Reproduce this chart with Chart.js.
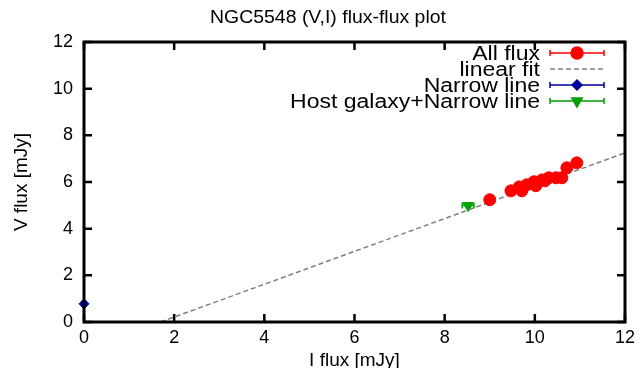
<!DOCTYPE html>
<html lang="en">

<head>
    <meta charset="UTF-8">
    <title>NGC5548 flux-flux plot</title>
    <script src="https://cdn.jsdelivr.net/npm/chart.js"></script>
    <style>
        body {
            margin: 0;
            background: #fff;
        }

        #wrap {
            position: relative;
            width: 640px;
            height: 368px;
        }
    </style>
</head>

<body>
    <div id="wrap">
        <canvas id="fluxChart"></canvas>
    </div>

    <script>
        const FONT = "'Liberation Sans', Arial, Helvetica, sans-serif";

        // Measured fluxes (I band on x, V band on y)
        const allFluxI = [9.00, 9.47, 9.65, 9.71, 9.82, 9.98, 10.02, 10.16, 10.22, 10.31, 10.47, 10.60, 10.71, 10.93];
        const allFluxV = [5.24, 5.62, 5.79, 5.62, 5.88, 6.01, 5.84, 6.09, 6.05, 6.18, 6.18, 6.18, 6.61, 6.82];

        const narrowI = [0.0];
        const narrowV = [0.78];
        const narrowErrI = [0.04];
        const narrowErrV = [0.08];

        const hostI = [8.52];
        const hostV = [4.99];
        const hostErrI = [0.13];
        const hostErrV = [0.08];

        // end points of the linear fit
        const fitI = [1.70, 12.0];
        const fitV = [0.0, 7.25];

        const xTicks = [0, 2, 4, 6, 8, 10, 12];
        const yTicks = [0, 2, 4, 6, 8, 10, 12];

        const plotTitle = 'NGC5548 (V,I) flux-flux plot';

        const toPts = (xs, ys) => xs.map((x, i) => ({ x: x, y: ys[i] }));

        // text drawn a little wider than the font, like the old gnuplot png terminal
        function wideText(ctx, str, x, y, align, sx) {
            ctx.save();
            ctx.translate(x, y);
            ctx.scale(sx, 1);
            ctx.textAlign = align;
            ctx.fillText(str, 0, 0);
            ctx.restore();
        }

        // frame, inward ticks, error bars, title and legend
        const gnuplotLook = {
            id: 'gnuplotLook',
            afterDatasetsDraw(chart) {
                const { ctx, chartArea: a, scales } = chart;
                const xs = scales.x, ys = scales.y;
                ctx.save();

                // error bars
                chart.data.datasets.forEach((ds) => {
                    if (!ds.errX) return;
                    ctx.strokeStyle = ds.borderColor;
                    ctx.lineWidth = 1.5;
                    ds.data.forEach((p, i) => {
                        const cx = xs.getPixelForValue(p.x);
                        const cy = ys.getPixelForValue(p.y);
                        const x1 = xs.getPixelForValue(p.x - ds.errX[i]);
                        const x2 = xs.getPixelForValue(p.x + ds.errX[i]);
                        const y1 = ys.getPixelForValue(p.y - ds.errY[i]);
                        const y2 = ys.getPixelForValue(p.y + ds.errY[i]);
                        ctx.beginPath();
                        ctx.moveTo(x1, cy); ctx.lineTo(x2, cy);
                        ctx.moveTo(x1, cy - 3); ctx.lineTo(x1, cy + 3);
                        ctx.moveTo(x2, cy - 3); ctx.lineTo(x2, cy + 3);
                        ctx.moveTo(cx, y1); ctx.lineTo(cx, y2);
                        ctx.moveTo(cx - 3, y1); ctx.lineTo(cx + 3, y1);
                        ctx.moveTo(cx - 3, y2); ctx.lineTo(cx + 3, y2);
                        ctx.stroke();
                    });
                });

                // border box
                ctx.strokeStyle = '#000';
                ctx.lineWidth = 3;
                ctx.strokeRect(a.left, a.top, a.right - a.left, a.bottom - a.top);

                // ticks pointing inward on all four sides
                ctx.lineWidth = 2.5;
                ctx.beginPath();
                xTicks.forEach(v => {
                    const px = xs.getPixelForValue(v);
                    ctx.moveTo(px, a.bottom); ctx.lineTo(px, a.bottom - 8);
                    ctx.moveTo(px, a.top); ctx.lineTo(px, a.top + 8);
                });
                yTicks.forEach(v => {
                    const py = ys.getPixelForValue(v);
                    ctx.moveTo(a.left, py); ctx.lineTo(a.left + 8, py);
                    ctx.moveTo(a.right, py); ctx.lineTo(a.right - 8, py);
                });
                ctx.stroke();

                // title
                ctx.fillStyle = '#000';
                ctx.textBaseline = 'middle';
                ctx.font = '18px ' + FONT;
                wideText(ctx, plotTitle, 328, 18, 'center', 1.08);

                // legend: text right aligned, sample on the right
                const textRight = 540, sL = 550, sR = 604;
                const rows = [53, 69, 85, 101];
                ctx.font = '20px ' + FONT;
                chart.data.datasets.forEach((ds, di) => {
                    const ry = rows[di];
                    ctx.fillStyle = '#000';
                    wideText(ctx, ds.label, textRight, ry + 1, 'right', 1.15);
                    ctx.strokeStyle = ds.borderColor;
                    ctx.lineWidth = 1.5;
                    if (ds.type === 'line') {
                        ctx.setLineDash(ds.borderDash);
                        ctx.beginPath();
                        ctx.moveTo(sL, ry); ctx.lineTo(sR, ry);
                        ctx.stroke();
                        ctx.setLineDash([]);
                    } else {
                        ctx.beginPath();
                        ctx.moveTo(sL, ry); ctx.lineTo(sR, ry);
                        ctx.moveTo(sL, ry - 3); ctx.lineTo(sL, ry + 3);
                        ctx.moveTo(sR, ry - 3); ctx.lineTo(sR, ry + 3);
                        ctx.stroke();
                        Chart.helpers.drawPoint(ctx, {
                            pointStyle: ds.pointStyle,
                            rotation: ds.rotation || 0,
                            radius: ds.pointRadius,
                            borderWidth: 1
                        }, (sL + sR) / 2, ry);
                        ctx.fillStyle = ds.backgroundColor;
                        ctx.fill();
                    }
                });
                ctx.restore();
            }
        };

        new Chart(document.getElementById('fluxChart'), {
            type: 'scatter',
            data: {
                datasets: [{
                    label: 'All flux',
                    data: toPts(allFluxI, allFluxV),
                    pointStyle: 'circle',
                    pointRadius: 6,
                    backgroundColor: '#ff0000',
                    borderColor: '#ff0000',
                    borderWidth: 1
                }, {
                    type: 'line',
                    label: 'linear fit',
                    data: toPts(fitI, fitV),
                    borderColor: '#808080',
                    borderWidth: 1.5,
                    borderDash: [5, 3],
                    pointRadius: 0,
                    fill: false
                }, {
                    label: 'Narrow line',
                    data: toPts(narrowI, narrowV),
                    errX: narrowErrI,
                    errY: narrowErrV,
                    pointStyle: 'rectRot',
                    pointRadius: 5,
                    backgroundColor: '#0000a0',
                    borderColor: '#0000a0',
                    borderWidth: 1
                }, {
                    label: 'Host galaxy+Narrow line',
                    data: toPts(hostI, hostV),
                    errX: hostErrI,
                    errY: hostErrV,
                    pointStyle: 'triangle',
                    rotation: 180,
                    pointRadius: 6,
                    backgroundColor: '#00a000',
                    borderColor: '#00a000',
                    borderWidth: 1
                }]
            },
            options: {
                responsive: true,
                maintainAspectRatio: false,
                animation: false,
                clip: false,
                layout: { padding: { top: 42, right: 14, left: 0, bottom: 0 } },
                plugins: {
                    legend: { display: false },
                    tooltip: { enabled: false },
                    title: { display: false }
                },
                scales: {
                    x: {
                        type: 'linear',
                        min: 0,
                        max: 12,
                        afterFit(s) { s.height = 46; },
                        afterBuildTicks(s) { s.ticks = xTicks.map(v => ({ value: v })); },
                        grid: { display: false, drawTicks: false },
                        border: { display: false },
                        ticks: {
                            color: '#000',
                            padding: 5,
                            font: { family: FONT, size: 18 }
                        },
                        title: {
                            display: true,
                            text: 'I flux [mJy]',
                            color: '#000',
                            padding: { top: 0, bottom: -4 },
                            font: { family: FONT, size: 19 }
                        }
                    },
                    y: {
                        type: 'linear',
                        min: 0,
                        max: 12,
                        afterFit(s) { s.width = 84; },
                        afterBuildTicks(s) { s.ticks = yTicks.map(v => ({ value: v })); },
                        grid: { display: false, drawTicks: false },
                        border: { display: false },
                        ticks: {
                            color: '#000',
                            padding: 11,
                            font: { family: FONT, size: 18 }
                        },
                        title: {
                            display: true,
                            text: 'V flux [mJy]',
                            color: '#000',
                            padding: { top: 10, bottom: 0 },
                            font: { family: FONT, size: 19 }
                        }
                    }
                }
            },
            plugins: [gnuplotLook]
        });
    </script>
</body>

</html>
